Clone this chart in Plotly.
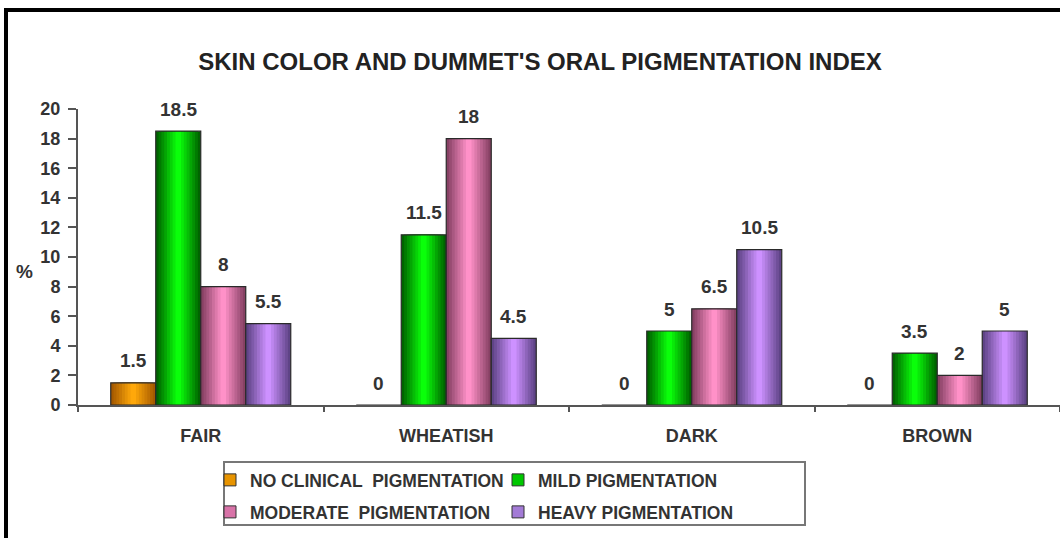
import plotly.graph_objects as go

# ---- data ----
categories = ["FAIR", "WHEATISH", "DARK", "BROWN"]
series_names = ["NO CLINICAL  PIGMENTATION", "MILD PIGMENTATION",
                "MODERATE  PIGMENTATION", "HEAVY PIGMENTATION"]
no_clinical = [1.5, 0, 0, 0]
mild = [18.5, 11.5, 5, 3.5]
moderate = [8, 18, 6.5, 2]
heavy = [5.5, 4.5, 10.5, 5]
y_ticks = [0, 2, 4, 6, 8, 10, 12, 14, 16, 18, 20]
series_values = [no_clinical, mild, moderate, heavy]

# ---- styles ----
edge_cols = [(165, 90, 0), (0, 100, 0), (135, 65, 100), (95, 68, 135)]
center_cols = [(255, 168, 10), (10, 255, 10), (255, 145, 200), (205, 145, 255)]
mid_cols = ["#E89400", "#00C800", "#D873A8", "#A37BD6"]
FONT = "Liberation Sans, Arial, sans-serif"
TXT = "#333333"
W, H = 1060, 538
L, T, B = 78, 109, 133
PW = W - L
PH = H - T - B
BW = 0.1833  # bar width in category units
NL = 8       # gradient layers


def px_x(p):
    return (p - L) / PW


def px_y(p):
    return (H - B - p) / PH


def mix(a, b, t):
    return "rgb(%d,%d,%d)" % tuple(round(a[c] + (b[c] - a[c]) * t) for c in range(3))


def fmt(v):
    return ("%g" % v)


fig = go.Figure()
for i, vals in enumerate(series_values):
    center = (i - 1.5) * BW
    for k in range(NL):
        f = 1 - k / NL
        fig.add_trace(go.Bar(
            x=categories, y=vals, width=f * BW, offset=center - f * BW / 2,
            marker=dict(color=mix(edge_cols[i], center_cols[i], k / (NL - 1)), line=dict(width=0)),
            showlegend=False, hoverinfo="skip"))
    # outline
    fig.add_trace(go.Bar(
        x=categories, y=vals, width=BW, offset=center - BW / 2,
        marker=dict(color="rgba(0,0,0,0)", line=dict(color="#2a2a2a", width=1.2)),
        showlegend=False, name=series_names[i]))
    # legend entry
    fig.add_trace(go.Bar(
        x=categories, y=[None] * len(categories), width=BW, offset=center - BW / 2,
        marker=dict(color=mid_cols[i], line=dict(color="#333", width=1)),
        name=series_names[i], showlegend=True,
        legend="legend" if i < 2 else "legend2"))
    # value labels
    for j, v in enumerate(vals):
        fig.add_annotation(
            x=j + center, y=v, xref="x", yref="y", text=fmt(v),
            showarrow=False, yshift=22, xanchor="center", yanchor="middle",
            font=dict(family=FONT, size=19, color=TXT, weight="bold"))

fig.add_annotation(x=px_x(24), y=px_y(271), xref="paper", yref="paper", text="%",
                   xanchor="center", yanchor="middle",
                   showarrow=False, font=dict(family=FONT, size=19, color=TXT, weight="bold"))

# frame and legend box
fig.add_shape(type="line", xref="paper", yref="paper", x0=px_x(4), x1=px_x(1062),
              y0=px_y(10), y1=px_y(10), line=dict(color="black", width=4))
fig.add_shape(type="line", xref="paper", yref="paper", x0=px_x(6), x1=px_x(6),
              y0=px_y(8), y1=px_y(540), line=dict(color="black", width=4))
fig.add_shape(type="rect", xref="paper", yref="paper", x0=px_x(224), x1=px_x(805),
              y0=px_y(462), y1=px_y(525), line=dict(color="#777777", width=2))

leg_common = dict(orientation="h", xanchor="left", yanchor="middle",
                  entrywidth=243, entrywidthmode="pixels", bgcolor="rgba(0,0,0,0)",
                  borderwidth=0, font=dict(family=FONT, size=17.5, color=TXT, weight="bold"))

fig.update_layout(
    width=W, height=H, margin=dict(l=L, r=0, t=T, b=B),
    paper_bgcolor="white", plot_bgcolor="white",
    barmode="overlay",
    title=dict(text="SKIN COLOR AND DUMMET'S ORAL PIGMENTATION INDEX",
               x=540 / W, xref="container", xanchor="center",
               y=1 - 62 / H, yref="container", yanchor="middle",
               font=dict(family=FONT, size=24, color="#222", weight="bold")),
    legend=dict(x=px_x(210), y=px_y(480), **leg_common),
    legend2=dict(x=px_x(210), y=px_y(512), **leg_common),
    xaxis=dict(type="category", categoryorder="array", categoryarray=categories,
               range=[-0.5, len(categories) - 0.5],
               showline=True, linecolor="#555", linewidth=2,
               ticks="outside", tickson="boundaries", ticklen=5, tickcolor="#555",
               tickwidth=1.5, ticklabelstandoff=13,
               tickfont=dict(family=FONT, size=18, color=TXT, weight="bold"),
               showgrid=False, zeroline=False, fixedrange=True),
    yaxis=dict(range=[0, 20], tickvals=y_ticks, showline=True, linecolor="#555",
               linewidth=2, ticks="outside", ticklen=8, tickcolor="#555", tickwidth=1.5,
               ticklabelstandoff=4,
               tickfont=dict(family=FONT, size=18, color=TXT, weight="bold"),
               showgrid=False, zeroline=False, fixedrange=True),
    showlegend=True,
)

fig.write_html("out.html", config={"displayModeBar": False},
               post_script="document.body.style.margin='0';document.body.style.overflow='hidden';")
